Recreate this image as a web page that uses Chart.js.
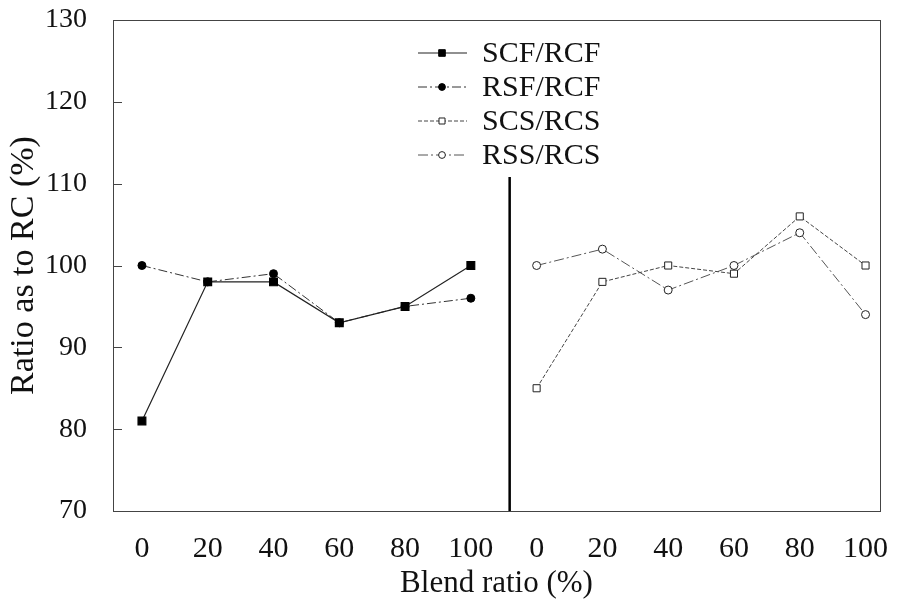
<!DOCTYPE html>
<html>
<head>
<meta charset="utf-8">
<script src="https://cdn.jsdelivr.net/npm/chart.js@4"></script>
<style>
    html, body { margin: 0; padding: 0; background: #fff; }
    #wrap { width: 902px; height: 602px; }
</style>
</head>
<body>
<div id="wrap"><canvas id="chart-blend"></canvas></div>
<script>
// x positions 0..5 = left panel (fabric), 6..11 = right panel (sheet)
const blendRatios = [0, 20, 40, 60, 80, 100];
const xTickLabels = ['0', '20', '40', '60', '80', '100', '0', '20', '40', '60', '80', '100'];
const scfRcf = [81, 98, 98, 93, 95, 100];
const rsfRcf = [100, 98, 99, 93, 95, 96];
const scsRcs = [85, 98, 100, 99, 106, 100];
const rssRcs = [100, 102, 97, 100, 104, 94];
const yTicks = [70, 80, 90, 100, 110, 120, 130];
const dividerX = 5.59;
const dividerY = [110.8, 70];

const FONT = "'Liberation Serif', 'Times New Roman', serif";
const INK = '#111';

function toPoints(values, offset) {
    return values.map((v, i) => ({ x: i + offset, y: v }));
}

// box + inward tick marks + legend
const framePlugin = {
    id: 'frame',
    afterDraw(chart) {
        const ctx = chart.ctx;
        const a = chart.chartArea;
        const y = chart.scales.y;
        ctx.save();
        ctx.strokeStyle = '#444';
        ctx.lineWidth = 1;
        ctx.strokeRect(a.left + 0.5, a.top + 0.5, a.right - a.left, a.bottom - a.top);
        ctx.beginPath();
        yTicks.forEach(t => {
            const py = Math.round(y.getPixelForValue(t)) + 0.5;
            ctx.moveTo(a.left, py);
            ctx.lineTo(a.left + 9, py);
        });
        ctx.stroke();

        // legend
        const lx = 418, ly = 53, step = 34;
        let row = 0;
        chart.data.datasets.forEach(ds => {
            if (!ds.label) return;
            const cy = ly + row * step;
            ctx.strokeStyle = ds.borderColor;
            ctx.lineWidth = ds.borderWidth;
            ctx.setLineDash(ds.borderDash || []);
            ctx.beginPath();
            ctx.moveTo(lx, cy);
            ctx.lineTo(lx + 49, cy);
            ctx.stroke();
            ctx.setLineDash([]);
            ctx.fillStyle = ds.pointBackgroundColor;
            ctx.strokeStyle = ds.pointBorderColor;
            ctx.lineWidth = 1;
            Chart.helpers.drawPoint(ctx, {
                pointStyle: ds.pointStyle,
                radius: ds.pointRadius * 0.85,
                rotation: 0,
                borderWidth: 1
            }, lx + 24, cy);
            ctx.fillStyle = INK;
            ctx.font = '30px ' + FONT;
            ctx.textBaseline = 'middle';
            ctx.textAlign = 'left';
            ctx.fillText(ds.label, lx + 64, cy + 1);
            row++;
        });
        ctx.restore();
    }
};

const ctxBlend = document.getElementById('chart-blend').getContext('2d');
new Chart(ctxBlend, {
    type: 'line',
    data: {
        datasets: [
            {
                label: 'SCF/RCF',
                data: toPoints(scfRcf, 0),
                borderColor: '#222',
                borderWidth: 1.2,
                pointStyle: 'rect',
                pointRadius: 5.5,
                pointBackgroundColor: '#000',
                pointBorderColor: '#000'
            },
            {
                label: 'RSF/RCF',
                data: toPoints(rsfRcf, 0),
                borderColor: '#333',
                borderWidth: 1,
                borderDash: [9, 3, 2, 3],
                pointStyle: 'circle',
                pointRadius: 4,
                pointBackgroundColor: '#000',
                pointBorderColor: '#000'
            },
            {
                label: 'SCS/RCS',
                data: toPoints(scsRcs, 6),
                borderColor: '#444',
                borderWidth: 1,
                borderDash: [4, 2],
                pointStyle: 'rect',
                pointRadius: 5,
                pointBackgroundColor: '#fff',
                pointBorderColor: '#222'
            },
            {
                label: 'RSS/RCS',
                data: toPoints(rssRcs, 6),
                borderColor: '#555',
                borderWidth: 1,
                borderDash: [10, 3, 2, 3],
                pointStyle: 'circle',
                pointRadius: 4,
                pointBackgroundColor: '#fff',
                pointBorderColor: '#222'
            },
            {
                label: '',
                data: dividerY.map(v => ({ x: dividerX, y: v })),
                borderColor: '#000',
                borderWidth: 2.5,
                pointRadius: 0
            }
        ]
    },
    options: {
        responsive: true,
        maintainAspectRatio: false,
        animation: false,
        layout: { padding: { top: 20, right: 22, left: 0, bottom: 0 } },
        plugins: {
            legend: { display: false },
            tooltip: { enabled: false }
        },
        scales: {
            x: {
                type: 'linear',
                min: -0.44,
                max: 11.22,
                grid: { display: false },
                border: { display: false },
                afterBuildTicks: scale => {
                    scale.ticks = xTickLabels.map((_, i) => ({ value: i }));
                },
                afterFit: scale => {
                    scale.height = 91;
                    scale.paddingLeft = 0;
                    scale.paddingRight = 0;
                },
                ticks: {
                    autoSkip: false,
                    maxRotation: 0,
                    padding: 12,
                    color: INK,
                    font: { family: FONT, size: 30 },
                    callback: v => xTickLabels[v]
                },
                title: {
                    display: true,
                    text: 'Blend ratio (%)',
                    color: INK,
                    font: { family: FONT, size: 31 },
                    padding: { top: 0, bottom: 0 }
                }
            },
            y: {
                min: 70,
                max: 130,
                grid: { display: false },
                border: { display: false },
                afterBuildTicks: scale => {
                    scale.ticks = yTicks.map(v => ({ value: v }));
                },
                afterFit: scale => {
                    scale.width = 113;
                    scale.paddingTop = 0;
                    scale.paddingBottom = 0;
                },
                ticks: {
                    padding: 18,
                    color: INK,
                    font: { family: FONT, size: 28 }
                },
                title: {
                    display: true,
                    text: 'Ratio as to RC (%)',
                    color: INK,
                    font: { family: FONT, size: 34 },
                    padding: { top: 4, bottom: 0 }
                }
            }
        }
    },
    plugins: [framePlugin]
});
</script>
</body>
</html>
